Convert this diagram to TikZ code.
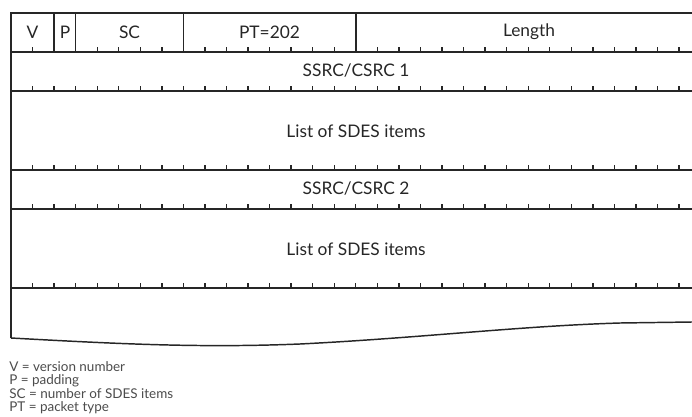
\documentclass[tikz,border=0pt]{standalone}
\usepackage{fontspec}
\setmainfont{Lato}
\begin{document}
\begin{tikzpicture}[x=0.75pt,y=-0.75pt,
  frame/.style={line width=1.1pt,draw=black!85},
  tickline/.style={line width=1pt,draw=black!85},
  lbl/.style={font=\fontsize{13}{15}\selectfont,text=black!85,inner sep=0pt},
  legend/.style={font=\fontsize{10.1}{11}\selectfont,text=black!70,inner sep=0pt,anchor=west}]
\useasboundingbox (0,0) rectangle (692,417);
\begin{scope}
\clip (0,0) rectangle (692,417);
% frame lines
\draw[frame] (702,13) -- (11,13) -- (11,338);
\foreach \y in {52,91,170,209,288} \draw[frame] (11,\y) -- (702,\y);
% field dividers in first row
\foreach \k in {2,3,8,16} \draw[frame] ({11+\k*21.55},13) -- ({11+\k*21.55},52);
% ticks
\foreach \y in {52,91,170,209,288}
  \foreach \k in {1,...,31} \draw[tickline] ({11+\k*21.55},\y) -- ({11+\k*21.55},\y-5);
% torn bottom edge
\draw[frame] (11,338) .. controls (120,344) and (200,348) .. (300,344)
  .. controls (420,338) and (520,326) .. (620,323) -- (692,322);
\end{scope}
% labels
\node[lbl] (v) at (32.5,32) {V};
\node[lbl] (p) at (65,32) {P};
\node[lbl] (sc) at (129.5,32) {SC};
\node[lbl] (pt) at (269.5,32) {PT=202};
\node[lbl] (len) at (529,32) {Length};
\node[lbl] (s1) at (356,71) {SSRC/CSRC 1};
\node[lbl] (l1) at (356,131) {List of SDES items};
\node[lbl] (s2) at (356,189) {SSRC/CSRC 2};
\node[lbl] (l2) at (356,249) {List of SDES items};
% legend
\node[legend] (g1) at (9,367) {V = version number};
\node[legend] (g2) at (9,380.5) {P = padding};
\node[legend] (g3) at (9,394) {SC = number of SDES items};
\node[legend] (g4) at (9,407.5) {PT = packet type};
\end{tikzpicture}
\end{document}
